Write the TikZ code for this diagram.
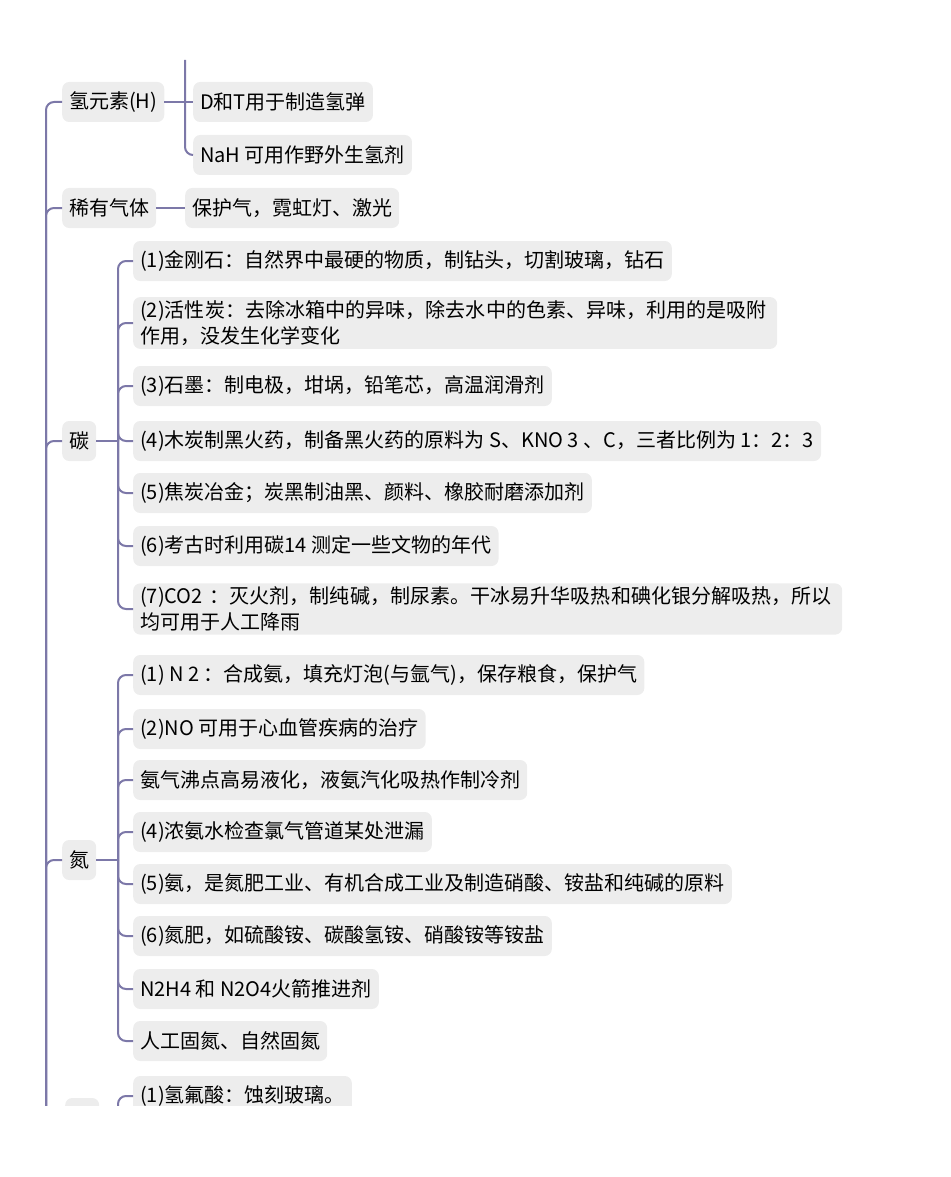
\documentclass[tikz,border=0pt]{standalone}
\usepackage{fontspec}
\setmainfont{Noto Sans CJK SC}
\XeTeXlinebreaklocale "zh"
\XeTeXlinebreakskip=0pt plus 1pt
\usetikzlibrary{positioning}
\definecolor{branch}{HTML}{7C78A8}
\definecolor{boxgray}{HTML}{EDEDED}
\tikzset{
  leaf/.style={fill=boxgray, rounded corners=7pt, anchor=west, inner xsep=7pt, minimum height=40pt, align=left, font=\fontsize{20}{26}\selectfont},
  conn/.style={draw=branch, line width=2pt, rounded corners=8pt}
}

\begin{document}
\begin{tikzpicture}[x=1pt,y=-1pt]
	\useasboundingbox (0,0) rectangle (950,1177);
	\begin{scope}
	\clip (0,60) rectangle (950,1105);

	% level one
	\node[leaf] (hyd) at (62,102) {氢元素(H)};
	\node[leaf] (rare) at (62,208) {稀有气体};
	\node[leaf] (carb) at (62,441) {碳};
	\node[leaf] (nitr) at (62,860) {氮};
	\node[leaf, minimum width=34pt] (fluo) at (65,1118) {};
	\coordinate (trunk) at (46,1160);

	% hydrogen
	\node[leaf] (dt) at (193,102) {D和T用于制造氢弹};
	\node[leaf] (nah) at (193,155) {NaH 可用作野外生氢剂};
	\coordinate (htop) at (185,60);
	\node[leaf] (prot) at (185,208) {保护气，霓虹灯、激光};

	% carbon
	\node[leaf] (c1) at (133,261) {(1)金刚石：自然界中最硬的物质，制钻头，切割玻璃，钻石};
	\node[leaf, text width=630pt] (c2) at (133,323) {(2)活性炭：去除冰箱中的异味，除去水中的色素、异味，利用的是吸附作用，没发生化学变化};
	\node[leaf] (c3) at (133,386) {(3)石墨：制电极，坩埚，铅笔芯，高温润滑剂};
	\node[leaf] (c4) at (133,441) {(4)木炭制黑火药，制备黑火药的原料为 S、KNO 3 、C，三者比例为 1：2：3};
	\node[leaf] (c5) at (133,493) {(5)焦炭冶金；炭黑制油黑、颜料、橡胶耐磨添加剂};
	\node[leaf] (c6) at (133,546) {(6)考古时利用碳14 测定一些文物的年代};
	\node[leaf, text width=695pt] (c7) at (133,609) {(7)CO2 ：灭火剂，制纯碱，制尿素。干冰易升华吸热和碘化银分解吸热，所以均可用于人工降雨};
	\coordinate (cfork) at (118,441);

	% nitrogen
	\node[leaf] (n1) at (133,675) {(1) N 2 ：合成氨，填充灯泡(与氩气)，保存粮食，保护气};
	\node[leaf] (n2) at (133,729) {(2)NO 可用于心血管疾病的治疗};
	\node[leaf] (n3) at (133,780) {氨气沸点高易液化，液氨汽化吸热作制冷剂};
	\node[leaf] (n4) at (133,832) {(4)浓氨水检查氯气管道某处泄漏};
	\node[leaf] (n5) at (133,884) {(5)氨，是氮肥工业、有机合成工业及制造硝酸、铵盐和纯碱的原料};
	\node[leaf] (n6) at (133,936) {(6)氮肥，如硫酸铵、碳酸氢铵、硝酸铵等铵盐};
	\node[leaf] (n7) at (133,989) {N2H4 和 N2O4火箭推进剂};
	\node[leaf] (n8) at (133,1041) {人工固氮、自然固氮};
	\coordinate (nfork) at (118,860);

	% fluorine
	\node[leaf] (f1) at (133,1096) {(1)氢氟酸：蚀刻玻璃。};
	\coordinate (ffork) at (118,1118);

	% connectors
	\foreach \n in {hyd,rare,carb,nitr,fluo}
		\draw[conn] (trunk) |- (\n.west);
	\draw[conn] (hyd.east) -- (dt.west);
	\draw[conn] (htop) |- (nah.west);
	\draw[conn] (rare.east) -- (prot.west);
	\draw[conn] (carb.east) -- (cfork);
	\foreach \n in {c1,c2,c3,c4,c5,c6,c7}
		\draw[conn] (cfork) |- (\n.west);
	\draw[conn] (nitr.east) -- (nfork);
	\foreach \n in {n1,n2,n3,n4,n5,n6,n7,n8}
		\draw[conn] (nfork) |- (\n.west);
	\draw[conn] (ffork) |- (f1.west);
	\end{scope}
\end{tikzpicture}
\end{document}
